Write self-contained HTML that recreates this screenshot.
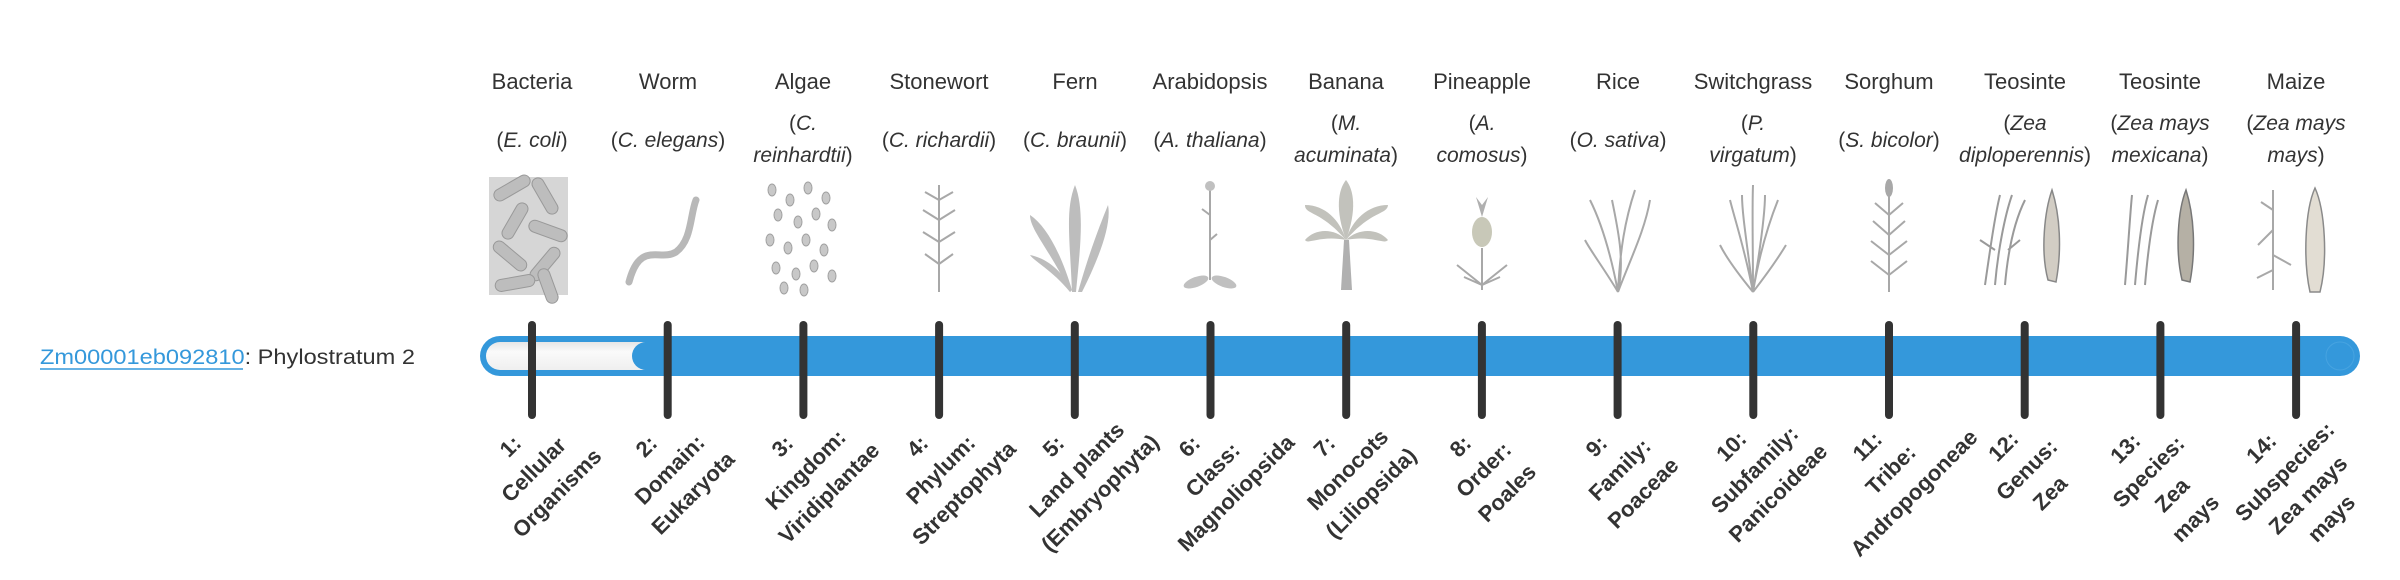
<!DOCTYPE html>
<html><head><meta charset="utf-8"><style>
html,body{margin:0;padding:0;background:#fff;width:2400px;height:580px;overflow:hidden}
svg{display:block}
.cn{font-family:"Liberation Sans",sans-serif;font-size:22px;fill:#333;text-anchor:middle}
.sn{font-family:"Liberation Sans",sans-serif;font-size:21px;fill:#333;text-anchor:middle}
.sn tspan.i{font-style:italic}
.lb{font-family:"Liberation Sans",sans-serif;font-size:22px;font-weight:bold;fill:#333;text-anchor:middle}
.g{fill:none;stroke:#a8a8a8;stroke-width:2}
</style></head><body>
<svg width="2400" height="580" viewBox="0 0 2400 580" xmlns="http://www.w3.org/2000/svg">
<defs>
<linearGradient id="wg" x1="0" y1="0" x2="0" y2="1"><stop offset="0" stop-color="#e6e6e6"/><stop offset="0.35" stop-color="#fafafa"/><stop offset="1" stop-color="#efefef"/></linearGradient>
</defs>
<text x="40" y="364" font-family="Liberation Sans, sans-serif" font-size="21" fill="#333" textLength="375" lengthAdjust="spacingAndGlyphs"><tspan fill="#3498db">Zm00001eb092810</tspan>: Phylostratum 2</text>
<line x1="40" y1="369" x2="243" y2="369" stroke="#3498db" stroke-width="1.5"/>

<g class="cn">
<text x="532" y="89">Bacteria</text>
<text x="668" y="89">Worm</text>
<text x="803" y="89">Algae</text>
<text x="939" y="89">Stonewort</text>
<text x="1075" y="89">Fern</text>
<text x="1210" y="89">Arabidopsis</text>
<text x="1346" y="89">Banana</text>
<text x="1482" y="89">Pineapple</text>
<text x="1618" y="89">Rice</text>
<text x="1753" y="89">Switchgrass</text>
<text x="1889" y="89">Sorghum</text>
<text x="2025" y="89">Teosinte</text>
<text x="2160" y="89">Teosinte</text>
<text x="2296" y="89">Maize</text>
</g>
<g class="sn">
<text x="532" y="147">(<tspan class="i">E. coli</tspan>)</text>
<text x="668" y="147">(<tspan class="i">C. elegans</tspan>)</text>
<text x="803" y="130">(<tspan class="i">C.</tspan></text><text x="803" y="162"><tspan class="i">reinhardtii</tspan>)</text>
<text x="939" y="147">(<tspan class="i">C. richardii</tspan>)</text>
<text x="1075" y="147">(<tspan class="i">C. braunii</tspan>)</text>
<text x="1210" y="147">(<tspan class="i">A. thaliana</tspan>)</text>
<text x="1346" y="130">(<tspan class="i">M.</tspan></text><text x="1346" y="162"><tspan class="i">acuminata</tspan>)</text>
<text x="1482" y="130">(<tspan class="i">A.</tspan></text><text x="1482" y="162"><tspan class="i">comosus</tspan>)</text>
<text x="1618" y="147">(<tspan class="i">O. sativa</tspan>)</text>
<text x="1753" y="130">(<tspan class="i">P.</tspan></text><text x="1753" y="162"><tspan class="i">virgatum</tspan>)</text>
<text x="1889" y="147">(<tspan class="i">S. bicolor</tspan>)</text>
<text x="2025" y="130">(<tspan class="i">Zea</tspan></text><text x="2025" y="162"><tspan class="i">diploperennis</tspan>)</text>
<text x="2160" y="130">(<tspan class="i">Zea mays</tspan></text><text x="2160" y="162"><tspan class="i">mexicana</tspan>)</text>
<text x="2296" y="130">(<tspan class="i">Zea mays</tspan></text><text x="2296" y="162"><tspan class="i">mays</tspan>)</text>
</g>

<g>
<rect x="489" y="177" width="79" height="118" fill="#d6d6d6"/>
<g fill="#bdbdbd" stroke="#999" stroke-width="1">
<rect x="492" y="182" width="40" height="12" rx="6" transform="rotate(-30 512 188)"/>
<rect x="525" y="190" width="40" height="12" rx="6" transform="rotate(60 545 196)"/>
<rect x="495" y="215" width="40" height="12" rx="6" transform="rotate(-60 515 221)"/>
<rect x="528" y="225" width="40" height="12" rx="6" transform="rotate(20 548 231)"/>
<rect x="490" y="250" width="40" height="12" rx="6" transform="rotate(40 510 256)"/>
<rect x="525" y="258" width="40" height="12" rx="6" transform="rotate(-50 545 264)"/>
<rect x="495" y="277" width="40" height="12" rx="6" transform="rotate(-10 515 283)"/>
<rect x="530" y="280" width="36" height="12" rx="6" transform="rotate(70 548 286)"/>
</g>
</g>
<path d="M 629 282 C 640 240, 660 262, 676 252 C 692 240, 690 215, 696 200" fill="none" stroke="#b8b8b8" stroke-width="7" stroke-linecap="round"/>
<g fill="#c8c8c8" stroke="#a0a0a0" stroke-width="1">
<ellipse cx="772" cy="190" rx="4" ry="6"/><ellipse cx="790" cy="200" rx="4" ry="6"/><ellipse cx="808" cy="188" rx="4" ry="6"/><ellipse cx="826" cy="198" rx="4" ry="6"/>
<ellipse cx="778" cy="215" rx="4" ry="6"/><ellipse cx="798" cy="222" rx="4" ry="6"/><ellipse cx="816" cy="214" rx="4" ry="6"/><ellipse cx="832" cy="225" rx="4" ry="6"/>
<ellipse cx="770" cy="240" rx="4" ry="6"/><ellipse cx="788" cy="248" rx="4" ry="6"/><ellipse cx="806" cy="240" rx="4" ry="6"/><ellipse cx="824" cy="250" rx="4" ry="6"/>
<ellipse cx="776" cy="268" rx="4" ry="6"/><ellipse cx="796" cy="274" rx="4" ry="6"/><ellipse cx="814" cy="266" rx="4" ry="6"/><ellipse cx="832" cy="276" rx="4" ry="6"/>
<ellipse cx="784" cy="288" rx="4" ry="6"/><ellipse cx="804" cy="290" rx="4" ry="6"/>
</g>
<g class="g"><path d="M939 292 V185"/><path d="M939 200 l-14 -8 M939 200 l14 -8 M939 220 l-16 -10 M939 220 l16 -10 M939 242 l-16 -10 M939 242 l16 -10 M939 264 l-14 -10 M939 264 l14 -10"/></g>
<g fill="#bdbdbd"><path d="M1070 292 C1050 250,1030 230,1030 215 C1045 225,1060 250,1072 290Z"/><path d="M1072 292 C1070 240,1065 210,1075 185 C1085 210,1080 250,1076 292Z"/><path d="M1078 292 C1090 250,1100 225,1108 205 C1112 225,1098 260,1082 292Z"/><path d="M1070 292 C1052 270,1035 262,1030 255 C1045 258,1060 268,1072 290Z"/></g>
<g class="g"><path d="M1210 280 V185 M1210 215 l-8 -6 M1210 240 l7 -6"/></g><g fill="#c0c0c0"><ellipse cx="1196" cy="282" rx="13" ry="5" transform="rotate(-20 1196 282)"/><ellipse cx="1224" cy="282" rx="13" ry="5" transform="rotate(20 1224 282)"/><circle cx="1210" cy="186" r="5"/></g>
<g><path d="M1341 290 L1344 240 L1349 240 L1352 290Z" fill="#b0b0b0"/><g fill="#c2c2bc"><path d="M1346 240 C1320 210,1305 215,1305 205 C1325 205,1340 220,1346 240Z"/><path d="M1346 240 C1372 210,1387 215,1388 205 C1368 205,1352 220,1346 240Z"/><path d="M1346 240 C1335 210,1338 190,1346 180 C1354 190,1357 210,1346 240Z"/><path d="M1346 240 C1320 235,1308 245,1305 240 C1315 228,1335 228,1346 240Z"/><path d="M1346 240 C1372 235,1384 245,1388 240 C1378 228,1358 228,1346 240Z"/></g></g>
<g><ellipse cx="1482" cy="232" rx="10" ry="15" fill="#c8c8b8"/><path d="M1482 217 l-6 -20 l6 8 l6 -8z" fill="#b0b0b0"/><path class="g" d="M1482 290 V248 M1482 285 l-25 -20 M1482 285 l25 -20 M1482 285 l-18 -8 M1482 285 l18 -8"/></g>
<g class="g"><path d="M1618 292 C1610 250,1600 220,1590 200 M1618 292 C1620 250,1625 220,1635 190 M1618 292 C1630 260,1645 230,1650 200 M1618 292 C1605 270,1590 250,1585 240 M1618 292 C1625 260,1618 230,1612 200"/></g>
<g class="g" stroke="#b8b8b8"><path d="M1753 292 C1745 250,1735 220,1730 200 M1753 292 C1753 250,1752 210,1753 185 M1753 292 C1760 250,1770 220,1778 200 M1753 292 C1735 270,1725 255,1720 245 M1753 292 C1770 270,1780 255,1786 245 M1753 292 C1748 250,1742 215,1742 195 M1753 292 C1760 250,1765 215,1765 195"/></g>
<g><path class="g" d="M1889 292 V192 M1889 275 l-18 -14 M1889 275 l18 -14 M1889 255 l-18 -14 M1889 255 l18 -14 M1889 235 l-16 -14 M1889 235 l16 -14 M1889 215 l-14 -12 M1889 215 l14 -12"/><ellipse cx="1889" cy="188" rx="4" ry="9" fill="#a8a8a8"/></g>
<g><path d="M1985 285 C1990 250,1995 215,2000 195 M1995 285 C1998 250,2005 215,2012 195 M2005 285 C2008 250,2015 220,2025 200 M1980 240 l15 10 M2020 240 l-12 10" fill="none" stroke="#9a9a9a" stroke-width="2"/><path d="M2048 280 C2040 250,2045 210,2052 190 C2060 215,2062 250,2056 282Z" fill="#d2cdc4" stroke="#888" stroke-width="1.5"/></g>
<g><path d="M2125 285 C2128 250,2130 215,2132 195 M2135 285 C2138 250,2142 215,2148 195 M2145 285 C2148 250,2152 220,2158 200" fill="none" stroke="#9a9a9a" stroke-width="2"/><path d="M2182 280 C2175 250,2178 210,2186 190 C2194 215,2196 250,2190 282Z" fill="#b5b0a5" stroke="#777" stroke-width="1.5"/></g>
<g><path class="g" stroke="#999" d="M2273 290 V190 M2273 230 l-15 15 M2273 255 l18 10 M2273 210 l-12 -8 M2273 270 l-16 8"/><path d="M2310 292 C2303 260,2305 210,2315 188 C2325 210,2328 260,2320 292Z" fill="#e2ddd3" stroke="#8a8a8a" stroke-width="1.5"/></g>

<rect x="480" y="336" width="1880" height="40" rx="20" fill="#3498db"/>
<rect x="486" y="342" width="170" height="28" rx="14" fill="url(#wg)"/>
<rect x="632" y="342" width="60" height="28" rx="14" fill="#3498db"/>
<circle cx="2340" cy="356" r="14" fill="none" stroke="#6ab6ea" stroke-width="1" opacity="0.35"/>

<g stroke="#333" stroke-width="8" stroke-linecap="round">
<line x1="532" y1="325" x2="532" y2="415"/>
<line x1="667.7" y1="325" x2="667.7" y2="415"/>
<line x1="803.4" y1="325" x2="803.4" y2="415"/>
<line x1="939.1" y1="325" x2="939.1" y2="415"/>
<line x1="1074.8" y1="325" x2="1074.8" y2="415"/>
<line x1="1210.5" y1="325" x2="1210.5" y2="415"/>
<line x1="1346.2" y1="325" x2="1346.2" y2="415"/>
<line x1="1481.9" y1="325" x2="1481.9" y2="415"/>
<line x1="1617.6" y1="325" x2="1617.6" y2="415"/>
<line x1="1753.3" y1="325" x2="1753.3" y2="415"/>
<line x1="1889" y1="325" x2="1889" y2="415"/>
<line x1="2024.7" y1="325" x2="2024.7" y2="415"/>
<line x1="2160.4" y1="325" x2="2160.4" y2="415"/>
<line x1="2296.1" y1="325" x2="2296.1" y2="415"/>
</g>

<g class="lb">
<g transform="translate(534,470) rotate(-45)"><text y="-26">1:</text><text y="7">Cellular</text><text y="40">Organisms</text></g>
<g transform="translate(670,470) rotate(-45)"><text y="-26">2:</text><text y="7">Domain:</text><text y="40">Eukaryota</text></g>
<g transform="translate(806,470) rotate(-45)"><text y="-26">3:</text><text y="7">Kingdom:</text><text y="40">Viridiplantae</text></g>
<g transform="translate(941,470) rotate(-45)"><text y="-26">4:</text><text y="7">Phylum:</text><text y="40">Streptophyta</text></g>
<g transform="translate(1077,470) rotate(-45)"><text y="-26">5:</text><text y="7">Land plants</text><text y="40">(Embryophyta)</text></g>
<g transform="translate(1213,470) rotate(-45)"><text y="-26">6:</text><text y="7">Class:</text><text y="40">Magnoliopsida</text></g>
<g transform="translate(1348,470) rotate(-45)"><text y="-26">7:</text><text y="7">Monocots</text><text y="40">(Liliopsida)</text></g>
<g transform="translate(1484,470) rotate(-45)"><text y="-26">8:</text><text y="7">Order:</text><text y="40">Poales</text></g>
<g transform="translate(1620,470) rotate(-45)"><text y="-26">9:</text><text y="7">Family:</text><text y="40">Poaceae</text></g>
<g transform="translate(1755,470) rotate(-45)"><text y="-26">10:</text><text y="7">Subfamily:</text><text y="40">Panicoideae</text></g>
<g transform="translate(1891,470) rotate(-45)"><text y="-26">11:</text><text y="7">Tribe:</text><text y="40">Andropogoneae</text></g>
<g transform="translate(2027,470) rotate(-45)"><text y="-26">12:</text><text y="7">Genus:</text><text y="40">Zea</text></g>
<g transform="translate(2161,484) rotate(-45)"><text y="-43">13:</text><text y="-10">Species:</text><text y="23">Zea</text><text y="56">mays</text></g>
<g transform="translate(2297,484) rotate(-45)"><text y="-43">14:</text><text y="-10">Subspecies:</text><text y="23">Zea mays</text><text y="56">mays</text></g>
</g>
</svg>
</body></html>
